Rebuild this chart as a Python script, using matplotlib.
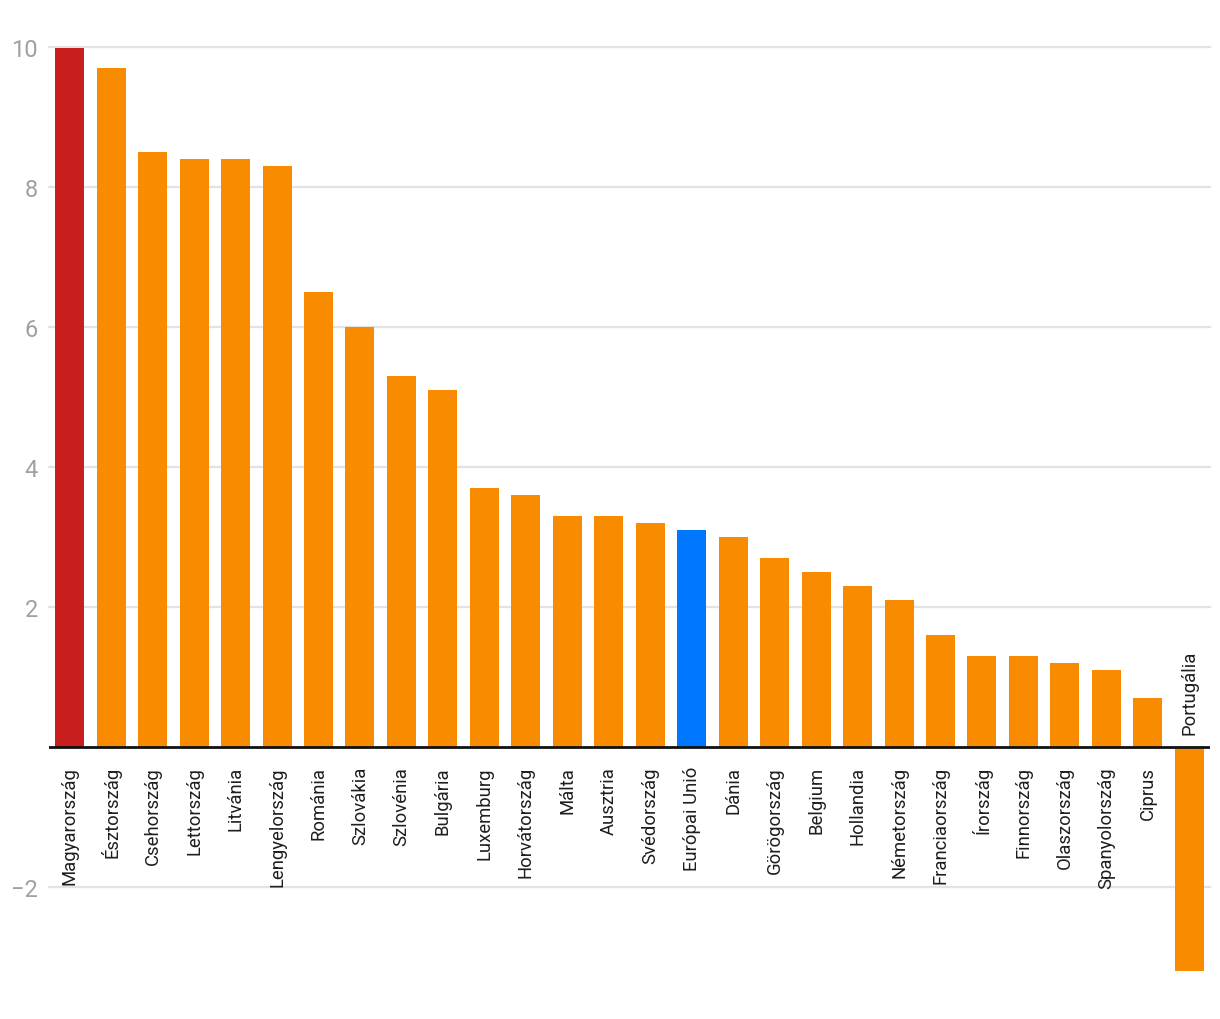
import matplotlib
matplotlib.use("Agg")
import matplotlib.pyplot as plt

countries = ["Magyarország", "Észtország", "Csehország", "Lettország", "Litvánia",
             "Lengyelország", "Románia", "Szlovákia", "Szlovénia", "Bulgária",
             "Luxemburg", "Horvátország", "Málta", "Ausztria", "Svédország",
             "Európai Unió", "Dánia", "Görögország", "Belgium", "Hollandia",
             "Németország", "Franciaország", "Írország", "Finnország", "Olaszország",
             "Spanyolország", "Ciprus", "Portugália"]
values = [10.0, 9.7, 8.5, 8.4, 8.4, 8.3, 6.5, 6.0, 5.3, 5.1,
          3.7, 3.6, 3.3, 3.3, 3.2, 3.1, 3.0, 2.7, 2.5, 2.3,
          2.1, 1.6, 1.3, 1.3, 1.2, 1.1, 0.7, -3.2]
yticks = [-2, 2, 4, 6, 8, 10]
ytick_labels = ["\u22122", "2", "4", "6", "8", "10"]

RED = "#C81E1E"
ORANGE = "#F98B00"
BLUE = "#0077FF"
colors = []
for c in countries:
    if c == "Magyarország":
        colors.append(RED)
    elif c == "Európai Unió":
        colors.append(BLUE)
    else:
        colors.append(ORANGE)

plt.rcParams["font.family"] = ["Roboto", "DejaVu Sans"]

W, H = 1220, 1020
fig = plt.figure(figsize=(W / 100, H / 100), dpi=100)
left, right, top, bottom = 49, 1210, 48.5, 972
ax = fig.add_axes([left / W, 1 - bottom / H, (right - left) / W, (bottom - top) / H])

x = list(range(len(countries)))
ax.bar(x, values, width=0.70, color=colors, zorder=2)
ax.set_xlim(-0.5, len(countries) - 0.5)
ax.set_ylim(-3.2, 10)

for yt in yticks:
    ax.axhline(yt, color="#e3e3e3", lw=1.6, zorder=1, clip_on=False)
ax.axhline(0, color="#111111", lw=2.0, zorder=3)

ax.set_yticks(yticks)
ax.set_yticklabels(ytick_labels)
ax.tick_params(axis="y", length=0, pad=8, labelsize=17, labelcolor="#a0a0a0")
ax.set_xticks([])
for s in ax.spines.values():
    s.set_visible(False)

for xi, (c, v) in enumerate(zip(countries, values)):
    if v >= 0:
        ax.annotate(c, (xi, 0), xytext=(0, -19), textcoords="offset pixels",
                    rotation=90, ha="center", va="top", fontsize=13.3,
                    color="#1e1e1e", zorder=4)
    else:
        ax.annotate(c, (xi, 0), xytext=(0, 13), textcoords="offset pixels",
                    rotation=90, ha="center", va="bottom", fontsize=13.3,
                    color="#1e1e1e", zorder=4)

fig.savefig("out.png", dpi=100)
